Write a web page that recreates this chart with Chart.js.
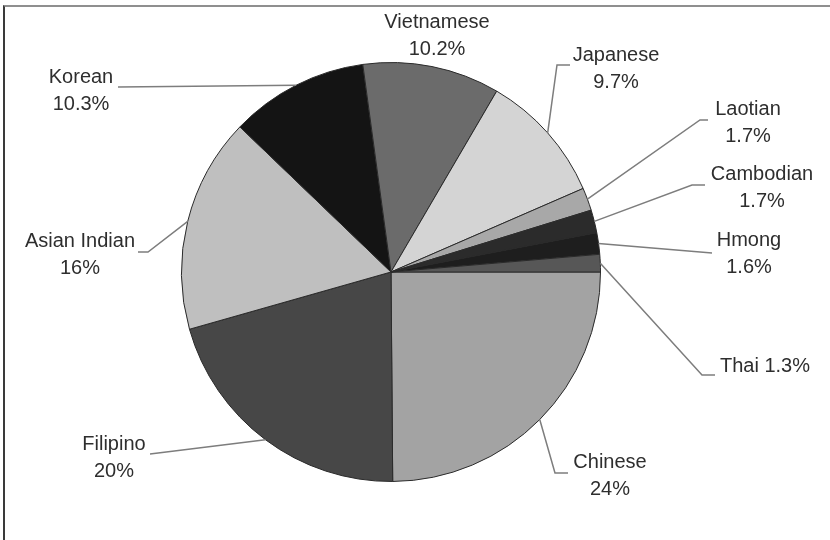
<!DOCTYPE html>
<html>
<head>
<meta charset="utf-8">
<script src="https://cdn.jsdelivr.net/npm/chart.js@4/dist/chart.umd.min.js"></script>
<style>
  body { margin: 0; background: #fff; }
  .wrap { position: relative; width: 830px; height: 540px; overflow: hidden; }
  .frame {
    position: absolute; left: 3px; top: 5px; width: 827px; height: 535px;
    border-top: 2px solid #8f8f8f; border-left: 2px solid #3a3a3a;
  }
  #chart { position: absolute; left: 0; top: 0; }
</style>
</head>
<body>
<div class="wrap">
  <div class="frame"></div>
  <canvas id="chart" width="830" height="540"></canvas>
</div>
<script>
// data (clockwise from 3 o'clock)
const categories = ['Chinese', 'Filipino', 'Asian Indian', 'Korean', 'Vietnamese', 'Japanese', 'Laotian', 'Cambodian', 'Hmong', 'Thai'];
const shares = [24, 20, 16, 10.3, 10.2, 9.7, 1.7, 1.7, 1.6, 1.3];
const sliceColors = ['#a3a3a3', '#474747', '#bfbfbf', '#141414', '#6b6b6b', '#d4d4d4', '#a8a8a8', '#2b2b2b', '#1e1e1e', '#575757'];

// where each label sits: text centre x, first baseline, and the bend(s) of the leader line
const labelLayout = [
  { x: 610, y: 468, path: [[555, 473], [568, 473]] },
  { x: 114, y: 450, path: [[150, 454]] },
  { x: 80, y: 247, path: [[148, 252], [138, 252]] },
  { x: 81, y: 83, path: [[118, 87]] },
  { x: 437, y: 28, path: [] },
  { x: 616, y: 61, path: [[557, 65], [570, 65]] },
  { x: 748, y: 115, path: [[700, 120], [708, 120]] },
  { x: 762, y: 180, path: [[692, 185], [705, 185]] },
  { x: 749, y: 246, path: [[712, 253]] },
  { x: 765, y: 372, path: [[702, 375], [715, 375]], oneLine: true }
];

const calloutPlugin = {
  id: 'callouts',
  afterDraw(chart) {
    const ctx = chart.ctx;
    const arcs = chart.getDatasetMeta(0).data;
    ctx.save();
    arcs.forEach((arc, i) => {
      const lay = labelLayout[i];
      const mid = (arc.startAngle + arc.endAngle) / 2;
      const sx = arc.x + Math.cos(mid) * arc.outerRadius;
      const sy = arc.y + Math.sin(mid) * arc.outerRadius;
      if (lay.path.length) {
        ctx.beginPath();
        ctx.moveTo(sx, sy);
        lay.path.forEach(p => ctx.lineTo(p[0], p[1]));
        ctx.strokeStyle = '#7d7d7d';
        ctx.lineWidth = 1.5;
        ctx.stroke();
      }
      ctx.fillStyle = '#2e2e2e';
      ctx.font = '20px "Liberation Sans", Arial, sans-serif';
      ctx.textAlign = 'center';
      ctx.textBaseline = 'alphabetic';
      const pct = shares[i] + '%';
      if (lay.oneLine) {
        ctx.fillText(categories[i] + ' ' + pct, lay.x, lay.y);
      } else {
        ctx.fillText(categories[i], lay.x, lay.y);
        ctx.fillText(pct, lay.x, lay.y + 27);
      }
    });
    ctx.restore();
  }
};

new Chart(document.getElementById('chart').getContext('2d'), {
  type: 'pie',
  data: {
    labels: categories,
    datasets: [{
      data: shares,
      backgroundColor: sliceColors,
      borderColor: '#2a2a2a',
      borderWidth: 1
    }]
  },
  options: {
    responsive: false,
    animation: false,
    rotation: 90,
    layout: { padding: { top: 62, bottom: 58, left: 180, right: 228 } },
    plugins: {
      legend: { display: false },
      tooltip: { enabled: false }
    },
    events: []
  },
  plugins: [calloutPlugin]
});
</script>
</body>
</html>
